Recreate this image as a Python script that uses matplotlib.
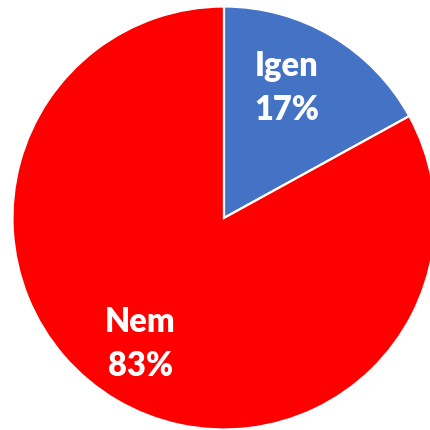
import matplotlib
matplotlib.use("Agg")
import matplotlib.pyplot as plt

labels = ["Igen", "Nem"]
values = [17, 83]
colors = ["#4472C4", "#FF0000"]

fig = plt.figure(figsize=(4.3, 4.3), dpi=100)
ax = fig.add_axes([0.029, 0.0012, 0.9837, 0.9837])
ax.pie(values, colors=colors, startangle=90, counterclock=False,
       wedgeprops=dict(edgecolor="white", linewidth=1.6), radius=1.0)
ax.set_xlim(-1, 1)
ax.set_ylim(-1, 1)
ax.set_aspect("equal")
ax.axis("off")

font = dict(family=["Lato", "DejaVu Sans"], fontweight="heavy", fontsize=23.5,
            color="white", ha="center", va="center")
pos = {"Igen": ((0.295, 0.72), (0.295, 0.51)), "Nem": ((-0.395, -0.49), (-0.395, -0.70))}
for lab, v in zip(labels, values):
    (x1, y1), (x2, y2) = pos[lab]
    ax.text(x1, y1, lab, **font)
    ax.text(x2, y2, f"{v}%", **font)

fig.savefig("out.png", dpi=100)
